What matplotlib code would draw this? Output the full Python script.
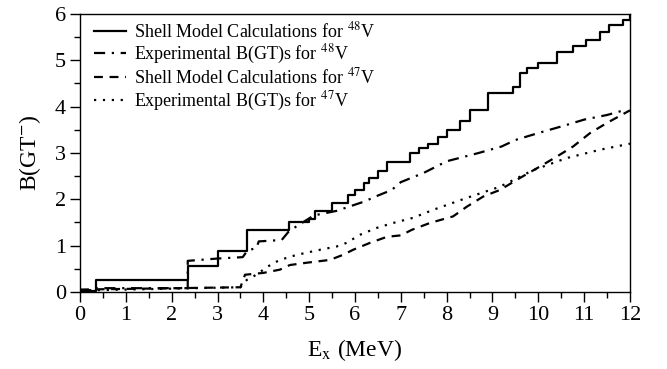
import numpy as np
import matplotlib.pyplot as plt
from matplotlib.ticker import MultipleLocator

# 48V shell model (cumulative B(GT-)), staircase
e_sm48 = [0, 0.35, 2.35, 3.0, 3.65, 4.55, 5.0, 5.13, 5.5, 5.85, 6.0, 6.2, 6.3, 6.5, 6.7,
          7.2, 7.4, 7.6, 7.8, 8.0, 8.3, 8.5, 8.9, 9.45, 9.6, 9.75, 10.0, 10.4, 10.75,
          11.05, 11.35, 11.55, 11.85, 12.0]
b_sm48 = [0.02, 0.25, 0.55, 0.89, 1.33, 1.50, 1.57, 1.75, 1.92, 2.1, 2.2, 2.35, 2.45, 2.6, 2.8,
          3.0, 3.1, 3.2, 3.35, 3.5, 3.68, 3.93, 4.3, 4.43, 4.73, 4.84, 4.95, 5.19, 5.3,
          5.44, 5.62, 5.77, 5.87, 5.98]

# 48V experimental
e_ex48 = [0, 0.3, 0.3, 2.35, 2.35, 3.0, 3.55, 3.65, 3.85, 3.9, 4.4, 4.55, 4.7, 5.1, 5.6,
          6.2, 6.5, 6.8, 7.0, 7.5, 8.0, 8.7, 9.2, 9.5, 10.0, 10.6, 11.0, 11.5, 11.9]
b_ex48 = [0.03, 0.03, 0.08, 0.08, 0.67, 0.72, 0.75, 0.89, 0.95, 1.09, 1.12, 1.3, 1.4, 1.65, 1.75,
          1.95, 2.08, 2.2, 2.37, 2.57, 2.82, 3.0, 3.14, 3.28, 3.43, 3.6, 3.72, 3.82, 3.93]

# 47V shell model
e_sm47 = [0, 3.5, 3.6, 4.0, 4.36, 4.58, 4.95, 5.45, 5.74, 5.96, 6.33, 6.7, 7.0, 7.24, 7.64,
          8.14, 8.44, 8.8, 9.16, 9.6, 10.04, 10.4, 10.76, 11.13, 11.5, 12.0]
b_sm47 = [0.05, 0.1, 0.37, 0.41, 0.48, 0.58, 0.63, 0.69, 0.8, 0.91, 1.06, 1.19, 1.22, 1.34, 1.49,
          1.63, 1.84, 2.06, 2.2, 2.46, 2.71, 2.92, 3.14, 3.43, 3.65, 3.92]

# 47V experimental
e_ex47 = [0, 3.5, 3.64, 3.78, 4.15, 4.36, 4.73, 5.24, 5.6, 5.82, 6.1, 6.47, 6.84, 7.27, 7.7,
          8.44, 9.16, 9.89, 10.62, 11.35, 12.0]
b_ex47 = [0.03, 0.1, 0.26, 0.33, 0.58, 0.69, 0.8, 0.91, 0.98, 1.06, 1.23, 1.38, 1.49, 1.6, 1.77,
          2.03, 2.27, 2.63, 2.89, 3.07, 3.2]

labels = [r'Shell Model Calculations for $^{48}$V',
          r'Experimental B(GT)s for $^{48}$V',
          r'Shell Model Calculations for $^{47}$V',
          r'Experimental B(GT)s for $^{47}$V']

plt.rcParams['font.family'] = ['Liberation Serif', 'DejaVu Serif']
plt.rcParams['mathtext.fontset'] = 'stix'

fig = plt.figure(figsize=(6.67, 3.69), dpi=100)
ax = fig.add_axes([0.12, 0.209, 0.8245, 0.753])

lw = 1.6
ax.plot(e_sm48, b_sm48, color='black', lw=lw, drawstyle='steps-post', label=labels[0])
ax.plot(e_ex48, b_ex48, color='black', lw=lw, linestyle=(0, (5, 3, 1, 3)), label=labels[1])
ax.plot(e_sm47, b_sm47, color='black', lw=lw, linestyle=(0, (4, 3)), label=labels[2])
ax.plot(e_ex47, b_ex47, color='black', lw=lw, linestyle=(0, (1, 3)), label=labels[3])

ax.set_xlim(0, 12)
ax.set_ylim(0, 6)
ax.xaxis.set_major_locator(MultipleLocator(1))
ax.xaxis.set_minor_locator(MultipleLocator(0.5))
ax.yaxis.set_major_locator(MultipleLocator(1))
ax.yaxis.set_minor_locator(MultipleLocator(0.5))
ax.tick_params(which='major', direction='out', length=7, width=1, labelsize=16, pad=3)
ax.tick_params(which='minor', direction='out', length=4, width=1)
ax.tick_params(top=False, right=False)
for s in ax.spines.values():
    s.set_linewidth(1.0)

ax.set_xlabel(r'E$_\mathrm{x}$ (MeV)', fontsize=17, labelpad=9)
ax.set_ylabel(r'B(GT$^{-}$)', fontsize=17, labelpad=9)

ax.legend(loc='upper left', frameon=False, fontsize=13, handlelength=1.75,
          handletextpad=0.45, labelspacing=0.1, borderaxespad=0.0, borderpad=0.0,
          bbox_to_anchor=(0.026, 0.975))

fig.savefig('out.png', dpi=100)
